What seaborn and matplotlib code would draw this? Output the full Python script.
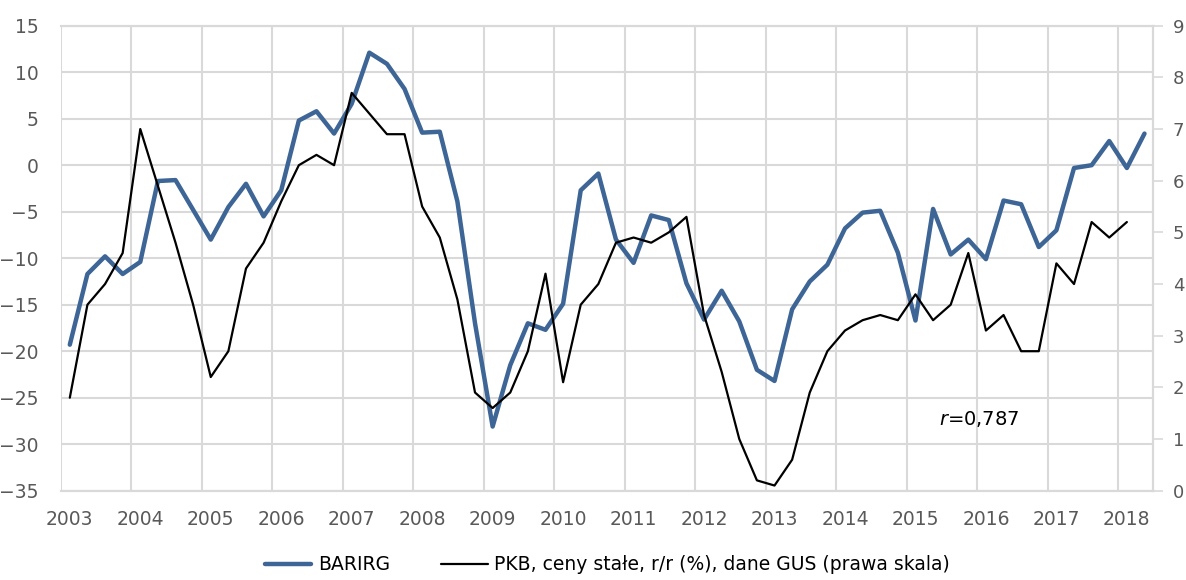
import numpy as np
import pandas as pd
import matplotlib
matplotlib.use("Agg")
import matplotlib.pyplot as plt
import seaborn as sns
from matplotlib import font_manager
from matplotlib.ticker import FixedLocator
from matplotlib.lines import Line2D

# kwartaly 2003Q1 - 2018Q2
years = list(range(2003, 2019))
quarters = [f"{y}Q{q}" for y in years for q in range(1, 5)][:62]

barirg = [-19.3, -11.7, -9.8, -11.7, -10.4, -1.7, -1.6, -4.8, -8.0, -4.5, -2.0, -5.5, -2.7, 4.8, 5.8, 3.4,
          6.6, 12.1, 10.9, 8.2, 3.5, 3.6, -3.9, -17.0, -28.1, -21.5, -17.0, -17.7, -14.9, -2.7, -0.9, -8.0,
          -10.5, -5.4, -5.9, -12.7, -16.6, -13.5, -16.8, -22.0, -23.2, -15.5, -12.5, -10.7, -6.8, -5.1, -4.9, -9.4,
          -16.7, -4.7, -9.6, -8.0, -10.1, -3.8, -4.2, -8.8, -7.0, -0.3, 0.0, 2.6, -0.3, 3.4]

# PKB r/r (%), prawa skala - brak danych za 2018Q2
pkb = [1.8, 3.6, 4.0, 4.6, 7.0, 5.9, 4.8, 3.6, 2.2, 2.7, 4.3, 4.8, 5.6, 6.3, 6.5, 6.3,
       7.7, 7.3, 6.9, 6.9, 5.5, 4.9, 3.7, 1.9, 1.6, 1.9, 2.7, 4.2, 2.1, 3.6, 4.0, 4.8,
       4.9, 4.8, 5.0, 5.3, 3.4, 2.3, 1.0, 0.2, 0.1, 0.6, 1.9, 2.7, 3.1, 3.3, 3.4, 3.3,
       3.8, 3.3, 3.6, 4.6, 3.1, 3.4, 2.7, 2.7, 4.4, 4.0, 5.2, 4.9, 5.2]

left_ticks = [-35, -30, -25, -20, -15, -10, -5, 0, 5, 10, 15]
right_ticks = list(range(0, 10))

df = pd.DataFrame({"kw": quarters, "BARIRG": barirg, "PKB": pkb + [np.nan]})
df["pos"] = np.arange(len(df))

sns.set_style("white")
plt.rcParams["font.family"] = ["DejaVu Sans"]
names = {f.name for f in font_manager.fontManager.ttflist}
legend_font = "Liberation Sans Narrow" if "Liberation Sans Narrow" in names else "DejaVu Sans"

blue = "#3D6595"
grid_c = "#D9D9D9"
txt_c = "#595959"

fig = plt.figure(figsize=(11.86, 5.80), dpi=100)
ax = fig.add_axes([61 / 1186, 1 - 490.7 / 580, (1153.3 - 61) / 1186, (490.7 - 25.7) / 580])
ax2 = ax.twinx()

sns.lineplot(data=df, x="pos", y="BARIRG", ax=ax, color=blue, lw=3.2, legend=False)
sns.lineplot(data=df.dropna(), x="pos", y="PKB", ax=ax2, color="black", lw=1.6, legend=False)

n = len(df)
ax.set_xlim(-0.5, n - 0.5)
ax.set_ylim(-35, 15)
ax2.set_ylim(0, 9)

ax.xaxis.set_major_locator(FixedLocator(np.arange(0, n, 4)))
ax.set_xticklabels([str(y) for y in years])
ax.xaxis.set_minor_locator(FixedLocator(np.arange(-0.5, n, 4)))
ax.set_yticks(left_ticks)
ax2.set_yticks(right_ticks)

ax.grid(True, which="minor", axis="x", color=grid_c, lw=1.5)
ax.grid(True, which="major", axis="y", color=grid_c, lw=1.5)
ax.set_axisbelow(True)

ax.tick_params(axis="x", which="both", length=0, pad=14, labelsize=13.5, colors=txt_c)
ax.tick_params(axis="y", length=0, pad=16, labelsize=13.5, colors=txt_c)
ax2.tick_params(axis="y", length=7, width=1.2, color=grid_c, pad=7, labelsize=13, labelcolor=txt_c)

for a in (ax, ax2):
    a.set_xlabel("")
    a.set_ylabel("")
    for s in a.spines.values():
        s.set_color(grid_c)
        s.set_linewidth(1.5)
ax2.spines["left"].set_visible(False)
ax.spines["left"].set_visible(False)

ax.text(51.6, -27.3, "$r$=0,787", fontsize=14, color="black", ha="center", va="center")

handles = [Line2D([], [], color=blue, lw=3.2), Line2D([], [], color="black", lw=1.6)]
labels = ["BARIRG", "PKB, ceny stałe, r/r (%), dane GUS (prawa skala)"]
fig.legend(handles, labels, loc="center", bbox_to_anchor=(0.512, 0.026), ncol=2, frameon=False,
           prop={"family": legend_font, "size": 13.5}, labelcolor="black",
           handlelength=2.5, handletextpad=0.35, columnspacing=2.7)

fig.savefig("out.png", dpi=100)
